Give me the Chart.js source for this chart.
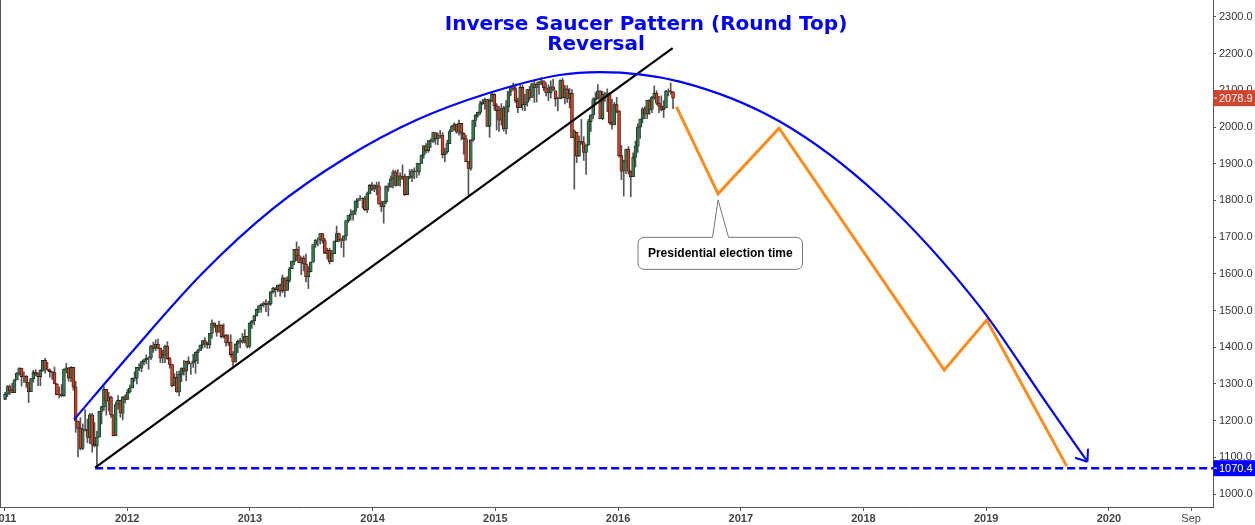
<!DOCTYPE html>
<html>
<head>
<meta charset="utf-8">
<title>Inverse Saucer Pattern (Round Top) Reversal</title>
<script src="https://cdn.jsdelivr.net/npm/chart.js@4.4.1/dist/chart.umd.min.js"></script>
<style>
  html, body { margin: 0; padding: 0; background: #fff; }
  #wrap { width: 1255px; height: 525px; }
</style>
</head>
<body>
<div id="wrap"><canvas id="chart" width="1255" height="525"></canvas></div>
<script>
// Weekly candles, first week starts Monday 3 Jan 2011 (one row per year)
const opens = [
  1258,1272,1293,1283,1276,1311,1329,1343,1320,1321,1304,1279,1314,1332,1328,1320,1337,1364,1340,1338,1333,1331,1300,1271,1272,1268,1340,1344,1316,1345,1292,1199,1179,1124,1177,1174,1154,1216,1136,1131,1155,1225,1238,1285,1253,1264,1216,1159,1244,1255,1220,1265,
  1258,1278,1289,1315,1316,1345,1343,1361,1366,1370,1371,1404,1397,1408,1398,1370,1379,1403,1369,1353,1295,1318,1278,1326,1343,1335,1362,1355,1357,1363,1386,1391,1406,1418,1411,1407,1438,1466,1460,1441,1461,1429,1433,1412,1414,1380,1360,1409,1416,1418,1414,1430,
  1402,1466,1472,1486,1503,1513,1518,1520,1516,1518,1551,1561,1557,1569,1553,1589,1555,1582,1614,1634,1667,1650,1631,1643,1627,1592,1606,1632,1680,1692,1692,1710,1691,1656,1664,1633,1655,1688,1710,1692,1691,1703,1745,1760,1762,1771,1798,1805,1806,1805,1775,1818,
  1841,1831,1842,1839,1790,1783,1797,1839,1836,1859,1878,1841,1867,1858,1865,1816,1865,1863,1881,1878,1878,1901,1924,1949,1936,1963,1961,1985,1968,1978,1978,1925,1932,1955,1988,2003,2008,1986,2010,1983,1968,1906,1887,1965,2018,2032,2040,2064,2068,2075,2002,2071,
  2089,2058,2045,2019,2052,1995,2055,2097,2110,2105,2071,2053,2108,2061,2067,2102,2081,2118,2108,2116,2123,2126,2107,2093,2094,2110,2099,2077,2077,2127,2080,2104,2078,2092,1971,1986,1921,1961,1958,1931,1951,2015,2033,2075,2079,2099,2023,2089,2090,2092,2012,2006,2061,
  2044,1922,1880,1907,1940,1880,1865,1918,1948,2000,2022,2050,2036,2073,2048,2081,2092,2065,2057,2047,2052,2099,2099,2096
];
const highs = [
  1277,1296,1297,1302,1312,1331,1344,1343,1333,1323,1304,1315,1337,1339,1330,1339,1364,1370,1359,1341,1334,1346,1301,1292,1298,1341,1356,1344,1347,1345,1307,1199,1208,1191,1230,1204,1220,1220,1195,1171,1225,1239,1293,1285,1277,1267,1216,1251,1268,1256,1266,1270,
  1285,1297,1316,1333,1345,1355,1362,1368,1379,1374,1405,1414,1420,1422,1398,1392,1406,1415,1372,1354,1328,1334,1335,1344,1364,1362,1374,1357,1381,1387,1394,1406,1419,1426,1414,1438,1475,1467,1460,1471,1461,1464,1435,1434,1434,1388,1409,1420,1424,1438,1448,1430,
  1467,1473,1486,1504,1514,1518,1524,1530,1525,1552,1564,1563,1570,1573,1597,1589,1592,1618,1635,1667,1687,1674,1646,1649,1654,1620,1632,1680,1694,1698,1710,1710,1697,1670,1670,1664,1690,1730,1711,1696,1704,1745,1759,1775,1772,1799,1803,1813,1808,1811,1823,1844,
  1849,1843,1850,1850,1798,1798,1840,1847,1867,1883,1882,1884,1875,1897,1872,1865,1884,1885,1889,1902,1901,1924,1950,1955,1963,1968,1986,1985,1984,1991,1985,1942,1964,1993,2005,2012,2008,2019,2010,1985,1978,1906,1966,2019,2034,2041,2071,2076,2079,2076,2077,2093,
  2091,2064,2057,2064,2057,2072,2097,2110,2120,2118,2079,2114,2114,2089,2103,2111,2120,2126,2121,2124,2135,2126,2121,2115,2126,2130,2099,2082,2129,2133,2114,2113,2105,2102,1993,1986,1976,2021,1974,1952,2021,2034,2080,2094,2116,2099,2097,2095,2104,2094,2076,2067,2081,
  2044,1950,1910,1940,1947,1881,1930,1962,2009,2022,2053,2056,2073,2075,2084,2112,2099,2084,2085,2072,2100,2104,2120,2097
];
const lows = [
  1257,1265,1271,1276,1276,1311,1324,1294,1304,1291,1249,1279,1305,1322,1295,1295,1334,1329,1336,1318,1312,1300,1270,1262,1265,1266,1330,1307,1306,1283,1168,1101,1120,1121,1172,1140,1137,1114,1128,1070,1155,1191,1228,1215,1226,1209,1158,1159,1231,1209,1202,1248,
  1258,1275,1289,1307,1300,1336,1333,1352,1355,1340,1366,1386,1391,1395,1358,1357,1358,1367,1343,1292,1295,1277,1267,1306,1324,1309,1354,1326,1345,1329,1355,1391,1397,1400,1397,1397,1425,1454,1430,1441,1425,1425,1403,1405,1373,1343,1360,1385,1398,1411,1411,1398,
  1398,1451,1461,1485,1494,1495,1510,1497,1485,1514,1547,1538,1551,1539,1548,1537,1555,1577,1614,1625,1636,1630,1598,1608,1578,1560,1605,1632,1672,1676,1681,1684,1655,1640,1627,1633,1655,1688,1687,1671,1646,1692,1740,1747,1746,1761,1780,1800,1779,1772,1767,1818,
  1827,1824,1815,1790,1770,1738,1791,1825,1836,1834,1839,1841,1839,1858,1814,1816,1859,1851,1859,1862,1869,1901,1915,1929,1931,1944,1958,1953,1952,1970,1916,1905,1928,1955,1988,1991,1983,1978,1965,1926,1906,1815,1882,1961,2001,2027,2034,2061,2049,2002,1972,2069,
  2046,1992,1988,2005,1989,1981,2041,2086,2100,2067,2039,2053,2046,2045,2057,2073,2081,2067,2068,2089,2115,2099,2085,2072,2079,2099,2057,2044,2077,2079,2063,2067,2052,1971,1831,1903,1920,1953,1909,1871,1951,1988,2022,2067,2077,2023,2020,2070,2042,2008,1994,2006,2039,
  1918,1857,1812,1873,1872,1810,1865,1891,1931,1969,2012,2023,2023,2034,2039,2076,2061,2039,2044,2026,2052,2085,2090,2050
];
const closes = [
  1272,1293,1283,1276,1311,1329,1343,1320,1321,1304,1279,1314,1332,1328,1320,1337,1364,1340,1338,1333,1331,1300,1271,1272,1268,1340,1344,1316,1345,1292,1199,1179,1124,1177,1174,1154,1216,1136,1131,1155,1225,1238,1285,1253,1264,1216,1159,1244,1255,1220,1265,1258,
  1278,1289,1315,1316,1345,1343,1361,1366,1370,1371,1404,1397,1408,1398,1370,1379,1403,1369,1353,1295,1318,1278,1326,1343,1335,1362,1355,1357,1363,1386,1391,1406,1418,1411,1407,1438,1466,1460,1441,1461,1429,1433,1412,1414,1380,1360,1409,1416,1418,1414,1430,1402,
  1466,1472,1486,1503,1513,1518,1520,1516,1518,1551,1561,1557,1569,1553,1589,1555,1582,1614,1634,1667,1650,1631,1643,1627,1592,1606,1632,1680,1692,1692,1710,1691,1656,1664,1633,1655,1688,1710,1692,1691,1703,1745,1760,1762,1771,1798,1805,1806,1805,1775,1818,1841,
  1831,1842,1839,1790,1783,1797,1839,1836,1859,1878,1841,1867,1858,1865,1816,1865,1863,1881,1878,1878,1901,1924,1949,1936,1963,1961,1985,1968,1978,1978,1925,1932,1955,1988,2003,2008,1986,2010,1983,1968,1906,1887,1965,2018,2032,2040,2064,2068,2075,2002,2071,2089,
  2058,2045,2019,2052,1995,2055,2097,2110,2105,2071,2053,2108,2061,2067,2102,2081,2118,2108,2116,2123,2126,2107,2093,2094,2110,2101,2077,2077,2127,2080,2104,2078,2092,1971,1989,1921,1961,1958,1931,1951,2015,2033,2075,2079,2099,2023,2089,2090,2092,2012,2006,2061,2044,
  1922,1880,1907,1940,1880,1865,1918,1948,2000,2022,2050,2036,2073,2048,2081,2092,2065,2057,2047,2052,2099,2099,2096,2078.9
];

// Axis ticks
const yTicks = [1000, 1100, 1200, 1300, 1400, 1500, 1600, 1700, 1800, 1900, 2000, 2100, 2200, 2300];
const xTicks = [2011, 2012, 2013, 2014, 2015, 2016, 2017, 2018, 2019, 2020, 2020.67];
const xTickLabels = ["2011", "2012", "2013", "2014", "2015", "2016", "2017", "2018", "2019", "2020", "Sep"];

// Drawn studies (decimal year, price)
const arcX = [2011.568, 2012.028, 2012.611, 2013.193, 2013.776, 2014.357, 2014.941, 2015.524, 2015.85, 2016.502, 2017.318, 2018.134, 2018.949, 2019.493, 2019.825];
const arcY = [1203, 1383, 1601, 1779, 1915, 2019, 2092, 2142, 2150, 2124, 2015, 1810, 1510, 1247, 1088];
const trendX = [2011.739, 2016.445];
const trendY = [1072, 2215];
const pathX = [2016.476, 2016.815, 2017.312, 2018.658, 2019.004, 2019.656];
const pathY = [2055, 1818, 1997, 1338, 1474, 1076];
const supportX = [2011.739, 2020.85];
const supportLevel = 1070.4;
const lastPrice = 2078.9;

const titleLines = ["Inverse Saucer Pattern (Round Top)", "Reversal"];
const noteText = "Presidential election time";

// week start -> decimal year
const toYear = (d) => {
  const y = d.getUTCFullYear();
  const start = Date.UTC(y, 0, 1);
  const end = Date.UTC(y + 1, 0, 1);
  return y + (d.getTime() - start) / (end - start);
};
const weekX = opens.map((_, i) => toYear(new Date(Date.UTC(2011, 0, 3 + 7 * i))));

const bodyColors = closes.map((c, i) => (c >= opens[i] ? "#3a7a52" : "#d23f29"));
const bodyBorders = closes.map((c, i) => (c >= opens[i] ? "#17301f" : "#3d130c"));

const axisFont = '"Liberation Sans", Arial, sans-serif';

// overlay: title, arrow head, callout, price boxes, left frame
const overlay = {
  id: "overlay",
  afterDraw(chart) {
    const { ctx, chartArea, scales } = chart;
    const y = scales.y;
    ctx.save();

    // left frame line
    ctx.strokeStyle = "#555";
    ctx.lineWidth = 1;
    ctx.beginPath();
    ctx.moveTo(0.5, 0);
    ctx.lineTo(0.5, chartArea.bottom);
    ctx.stroke();

    // title
    ctx.fillStyle = "#0000ff";
    ctx.font = 'bold 20px "DejaVu Sans", Verdana, sans-serif';
    ctx.textAlign = "center";
    ctx.textBaseline = "alphabetic";
    ctx.fillText(titleLines[0], 646, 29.5);
    ctx.fillText(titleLines[1], 596, 49.5);

    // arrow head on the saucer arc
    const arc = chart.getDatasetMeta(0).data;
    const end = arc[arc.length - 1];
    const prev = arc[arc.length - 2];
    let dx = end.x - (end.cp1x !== undefined ? end.cp1x : prev.x);
    let dy = end.y - (end.cp1y !== undefined ? end.cp1y : prev.y);
    const len = Math.hypot(dx, dy) || 1;
    dx /= len; dy /= len;
    ctx.strokeStyle = "#0000ff";
    ctx.lineWidth = 2;
    ctx.beginPath();
    [-0.65, 0.65].forEach((a) => {
      const rx = -dx * Math.cos(a) + dy * Math.sin(a);
      const ry = -dx * Math.sin(a) - dy * Math.cos(a);
      ctx.moveTo(end.x, end.y);
      ctx.lineTo(end.x + rx * 13, end.y + ry * 13);
    });
    ctx.stroke();

    // callout under the election dip
    const dip = chart.getDatasetMeta(1).data[1];
    const tipX = dip.x, tipY = dip.y + 6;
    const left = dip.x - 80, right = dip.x + 84.5;
    const top = dip.y + 43.5, bottom = dip.y + 75.5, r = 6;
    ctx.beginPath();
    ctx.moveTo(left + r, top);
    ctx.lineTo(tipX - 5.5, top);
    ctx.lineTo(tipX, tipY);
    ctx.lineTo(tipX + 10.5, top);
    ctx.lineTo(right - r, top);
    ctx.arcTo(right, top, right, top + r, r);
    ctx.lineTo(right, bottom - r);
    ctx.arcTo(right, bottom, right - r, bottom, r);
    ctx.lineTo(left + r, bottom);
    ctx.arcTo(left, bottom, left, bottom - r, r);
    ctx.lineTo(left, top + r);
    ctx.arcTo(left, top, left + r, top, r);
    ctx.closePath();
    ctx.fillStyle = "#fff";
    ctx.fill();
    ctx.strokeStyle = "#777";
    ctx.lineWidth = 1;
    ctx.stroke();
    ctx.fillStyle = "#000";
    ctx.font = "bold 12px " + axisFont;
    ctx.textAlign = "center";
    ctx.textBaseline = "middle";
    ctx.fillText(noteText, (left + right) / 2, (top + bottom) / 2 + 0.5);

    // price boxes on the right axis
    const priceBox = (value, color) => {
      const py = y.getPixelForValue(value);
      ctx.fillStyle = color;
      ctx.fillRect(chartArea.right + 0.5, py - 8, chart.width - chartArea.right, 16);
      ctx.strokeStyle = "#fff";
      ctx.beginPath();
      ctx.moveTo(chartArea.right + 1, py);
      ctx.lineTo(chartArea.right + 4, py);
      ctx.stroke();
      ctx.fillStyle = "#fff";
      ctx.font = "11px " + axisFont;
      ctx.textAlign = "left";
      ctx.textBaseline = "middle";
      ctx.fillText(value.toFixed(1), chartArea.right + 6, py + 0.5);
    };
    priceBox(lastPrice, "#d1452f");
    priceBox(supportLevel, "#0000ff");

    ctx.restore();
  },
};

new Chart(document.getElementById("chart"), {
  type: "bar",
  data: {
    datasets: [
      {
        type: "line",
        label: "Saucer",
        data: arcX.map((x, i) => ({ x, y: arcY[i] })),
        borderColor: "#0000ff",
        borderWidth: 2.2,
        pointRadius: 0,
        cubicInterpolationMode: "monotone",
        order: 0,
      },
      {
        type: "line",
        label: "Projection",
        data: pathX.map((x, i) => ({ x, y: pathY[i] })),
        borderColor: "#ff8c1a",
        borderWidth: 3,
        pointRadius: 0,
        tension: 0,
        order: 0,
      },
      {
        type: "line",
        label: "Trend",
        data: trendX.map((x, i) => ({ x, y: trendY[i] })),
        borderColor: "#000",
        borderWidth: 2.2,
        pointRadius: 0,
        order: 0,
      },
      {
        type: "line",
        label: "Support",
        data: supportX.map((x) => ({ x, y: supportLevel })),
        borderColor: "#0000ff",
        borderWidth: 2.4,
        borderDash: [8, 4],
        pointRadius: 0,
        order: 0,
      },
      {
        type: "bar",
        label: "Body",
        data: weekX.map((x, i) => ({ x, y: [opens[i], closes[i]] })),
        backgroundColor: bodyColors,
        borderColor: bodyBorders,
        borderWidth: 0.8,
        borderSkipped: false,
        barThickness: 3,
        grouped: false,
        order: 1,
      },
      {
        type: "bar",
        label: "Wick",
        data: weekX.map((x, i) => ({ x, y: [lows[i], highs[i]] })),
        backgroundColor: "#555",
        barThickness: 1,
        grouped: false,
        order: 2,
      },
    ],
  },
  options: {
    responsive: false,
    animation: false,
    devicePixelRatio: 1,
    events: [],
    layout: { padding: 0 },
    plugins: {
      legend: { display: false },
      tooltip: { enabled: false },
      title: { display: false },
    },
    scales: {
      x: {
        type: "linear",
        position: "bottom",
        min: 2010.964,
        max: 2020.848,
        offset: false,
        afterBuildTicks: (scale) => {
          scale.ticks = xTicks.map((v) => ({ value: v }));
        },
        afterFit: (scale) => {
          scale.height = 18;
          scale.paddingLeft = 0;
          scale.paddingRight = 0;
        },
        ticks: {
          autoSkip: false,
          maxRotation: 0,
          padding: 1,
          color: "#444",
          font: (c) => ({ family: axisFont, size: 11, weight: c.index === xTicks.length - 1 ? "normal" : "bold" }),
          callback: (v, i) => xTickLabels[i],
        },
        grid: { display: true, offset: false, drawOnChartArea: false, drawTicks: true, tickLength: 4, color: "#555" },
        border: { display: true, color: "#555", width: 1 },
      },
      y: {
        type: "linear",
        position: "right",
        min: 964.6,
        max: 2346.3,
        afterBuildTicks: (scale) => {
          scale.ticks = yTicks.map((v) => ({ value: v }));
        },
        afterFit: (scale) => {
          scale.width = 42;
          scale.paddingTop = 0;
          scale.paddingBottom = 0;
        },
        ticks: {
          padding: 3,
          color: "#333",
          font: { family: axisFont, size: 11 },
          callback: (v) => Number(v).toFixed(1),
        },
        grid: { display: true, drawOnChartArea: false, drawTicks: true, tickLength: 3, color: "#555" },
        border: { display: true, color: "#555", width: 1 },
      },
    },
  },
  plugins: [overlay],
});
</script>
</body>
</html>
